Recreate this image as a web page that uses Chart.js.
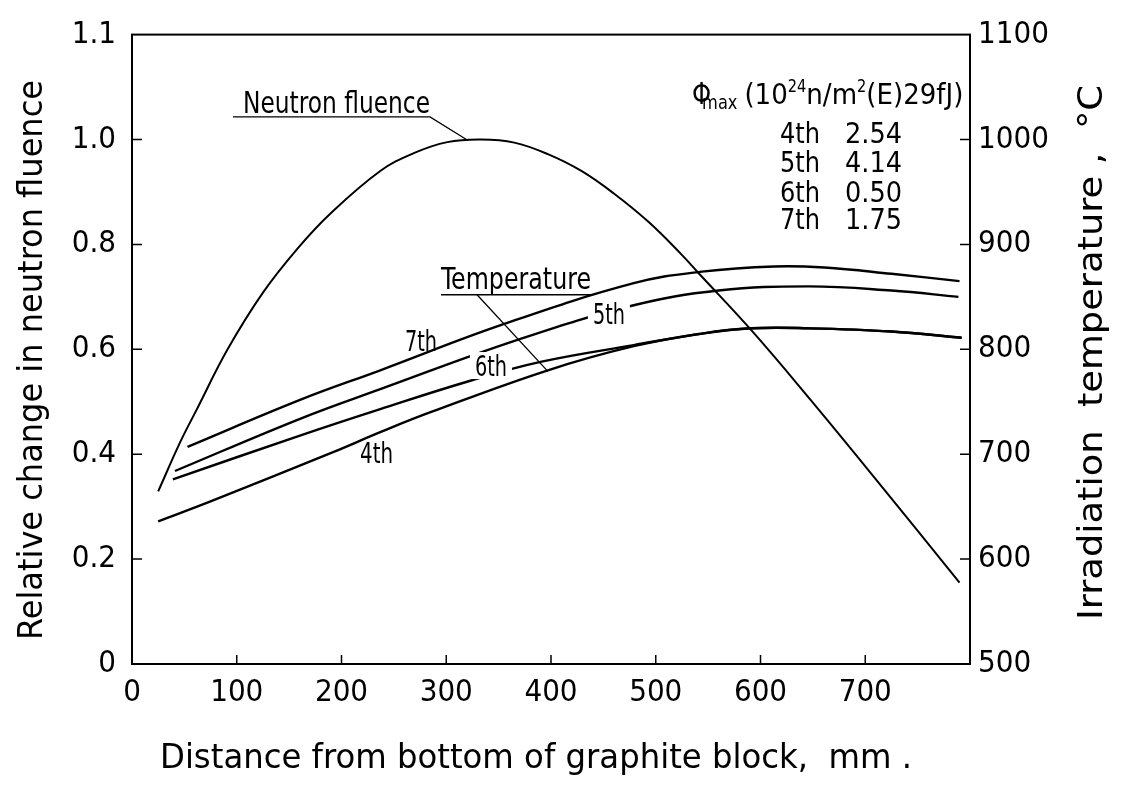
<!DOCTYPE html>
<html>
<head>
<meta charset="utf-8">
<script src="https://cdn.jsdelivr.net/npm/chart.js@4.4.1/dist/chart.umd.min.js"></script>
<style>
  html, body { margin: 0; padding: 0; background: #fff; }
  #wrap { width: 1121px; height: 792px; }
</style>
</head>
<body>
<div id="wrap"><canvas id="chart" width="1121" height="792"></canvas></div>
<script>
const FONT = "'DejaVu Sans Condensed', 'Liberation Sans', sans-serif";

// neutron fluence (relative), left axis
const fluenceDist = [25, 46, 62, 91, 125, 158, 189, 237, 269, 301, 333, 365, 397, 429, 460, 493, 524, 541, 591, 646, 709, 790];
const fluence = [0.329, 0.423, 0.486, 0.599, 0.708, 0.792, 0.858, 0.94, 0.974, 0.995, 1.0, 0.994, 0.972, 0.94, 0.897, 0.843, 0.782, 0.745, 0.637, 0.508, 0.355, 0.155];

// irradiation temperature (deg C), right axis
const dist7th = [53, 161, 237, 352, 479, 544, 613, 661, 725, 790];
const temp7th = [707, 752, 780, 823, 863, 874, 879, 878, 872, 865];
const dist5th = [41, 161, 237, 368, 479, 560, 646, 725, 789];
const temp5th = [684, 734, 762, 809, 842, 856, 860, 856, 850];
const dist6th = [39, 161, 237, 323, 390, 479, 544, 591, 646, 725, 792];
const temp6th = [676, 718, 743, 770, 788, 804, 815, 820, 820, 817, 811];
const dist4th = [25, 75, 192, 237, 285, 397, 479, 544, 591, 646, 725, 792];
const temp4th = [636, 655, 702, 721, 740, 780, 803, 815, 820, 820, 817, 811];

// max fluence table
const campaigns = ['4th', '5th', '6th', '7th'];
const phiMax = ['2.54', '4.14', '0.50', '1.75'];

// ticks
const xTickVals = [0, 100, 200, 300, 400, 500, 600, 700];
const leftTickVals = [0, 0.2, 0.4, 0.6, 0.8, 1.0, 1.2];
const leftTickLabels = ['0', '0.2', '0.4', '0.6', '0.8', '1.0', '1.1'];
const rightTickVals = [500, 600, 700, 800, 900, 1000, 1100];
const rightTickLabels = ['500', '600', '700', '800', '900', '1000', '1100'];

const pts = (xs, ys) => xs.map((d, i) => ({ x: d, y: ys[i] }));

function line(data, axis, width) {
  return {
    data: data,
    yAxisID: axis,
    borderColor: '#000',
    borderWidth: width,
    pointRadius: 0,
    fill: false,
    tension: 0.4
  };
}

// draw text squeezed/stretched to a given width
function fitText(ctx, text, x, y, width) {
  const w = ctx.measureText(text).width;
  ctx.save();
  ctx.translate(x, y);
  ctx.scale(width / w, 1);
  ctx.textAlign = 'left';
  ctx.fillText(text, 0, 0);
  ctx.restore();
}

// labels placed in data units (x: mm, y: left axis)
const notes = [
  { text: 'Neutron fluence', x: 106, y: 1.051, w: 187, size: 30 },
  { text: 'Temperature', x: 295, y: 0.715, w: 150, size: 31 },
  { text: '7th', x: 260.6, y: 0.596, w: 32, size: 29 },
  { text: '5th', x: 440, y: 0.649, w: 32, size: 29, gap: true },
  { text: '6th', x: 327.4, y: 0.549, w: 32, size: 29, gap: true },
  { text: '4th', x: 217.7, y: 0.383, w: 33, size: 29 }
];
const strokes = [
  [[96.4, 1.043], [284.5, 1.043], [320.8, 0.998]],
  [[295, 0.704], [440, 0.704]],
  [[329.4, 0.704], [397, 0.558]]
];

const frame = {
  id: 'frame',
  afterDatasetsDraw(chart) {
    const { ctx, chartArea: a, scales } = chart;
    const x = scales.x, y = scales.y, y2 = scales.y2;
    const px = d => x.getPixelForValue(d), py = v => y.getPixelForValue(v);
    ctx.save();
    ctx.strokeStyle = '#000';
    ctx.fillStyle = '#000';

    ctx.lineWidth = 2;
    ctx.strokeRect(a.left, a.top, a.right - a.left, a.bottom - a.top);

    // inward tick marks
    ctx.lineWidth = 1.5;
    ctx.beginPath();
    xTickVals.slice(1).forEach(v => {
      ctx.moveTo(px(v), a.bottom); ctx.lineTo(px(v), a.bottom - 9);
    });
    leftTickVals.slice(1, -1).forEach(v => {
      ctx.moveTo(a.left, py(v)); ctx.lineTo(a.left + 10, py(v));
    });
    rightTickVals.slice(1, -1).forEach(v => {
      const p = y2.getPixelForValue(v);
      ctx.moveTo(a.right, p); ctx.lineTo(a.right - 10, p);
    });
    ctx.stroke();

    // leaders and underlines
    ctx.lineWidth = 1.3;
    strokes.forEach(s => {
      ctx.beginPath();
      s.forEach((p, i) => i ? ctx.lineTo(px(p[0]), py(p[1])) : ctx.moveTo(px(p[0]), py(p[1])));
      ctx.stroke();
    });

    ctx.textBaseline = 'alphabetic';
    notes.forEach(n => {
      ctx.font = n.size + 'px ' + FONT;
      const lx = px(n.x), ly = py(n.y);
      if (n.gap) {
        ctx.fillStyle = '#fff';
        ctx.fillRect(lx - 5, ly - 24, n.w + 10, 27);
        ctx.fillStyle = '#000';
      }
      fitText(ctx, n.text, lx, ly, n.w);
    });

    // max fluence block
    let cx = px(534.6);
    const by = py(1.068);
    const seg = (t, size, dy, sx) => {
      ctx.font = size + 'px ' + FONT;
      const w = ctx.measureText(t).width * sx;
      fitText(ctx, t, cx, by + dy, w);
      cx += w;
    };
    seg('\u03A6', 30, 0, 0.9);
    cx -= 9;
    seg('max', 20, 5, 0.9);
    cx += 7;
    seg('(10', 29, 0, 1.0);
    seg('24', 18, -12, 0.9);
    seg('n/m', 29, 0, 1.0);
    seg('2', 18, -12, 0.9);
    seg('(E)29fJ)', 29, 0, 1.0);

    ctx.font = '29px ' + FONT;
    const rowY = [0.994, 0.938, 0.881, 0.830];
    campaigns.forEach((c, i) => {
      fitText(ctx, c, px(618.6), py(rowY[i]), 40);
      fitText(ctx, phiMax[i], px(680.7), py(rowY[i]), 57);
    });
    ctx.restore();
  },
  afterDraw(chart) {
    const ctx = chart.ctx;
    ctx.save();
    ctx.fillStyle = '#000';
    ctx.font = '34px ' + FONT;
    ctx.textBaseline = 'alphabetic';
    fitText(ctx, 'Distance from bottom of graphite block,  mm .', 160, 768, 752);

    ctx.translate(42, 640);
    ctx.rotate(-Math.PI / 2);
    fitText(ctx, 'Relative change in neutron fluence', 0, 0, 560);
    ctx.restore();

    ctx.save();
    ctx.fillStyle = '#000';
    ctx.font = '34px ' + FONT;
    ctx.translate(1102, 620);
    ctx.rotate(-Math.PI / 2);
    fitText(ctx, 'Irradiation  temperature ,  \u00B0C', 0, 0, 535);
    ctx.restore();
  }
};

const tickFont = { family: FONT, size: 31 };

new Chart(document.getElementById('chart'), {
  type: 'line',
  data: {
    datasets: [
      line(pts(fluenceDist, fluence), 'y', 2),
      line(pts(dist7th, temp7th), 'y2', 2.4),
      line(pts(dist5th, temp5th), 'y2', 2.4),
      line(pts(dist6th, temp6th), 'y2', 2.4),
      line(pts(dist4th, temp4th), 'y2', 2.4)
    ]
  },
  options: {
    responsive: false,
    animation: false,
    devicePixelRatio: 1,
    layout: { padding: { top: 28, right: 0, left: 0, bottom: 0 } },
    plugins: { legend: { display: false }, tooltip: { enabled: false } },
    scales: {
      x: {
        type: 'linear',
        min: 0,
        max: 800,
        grid: { display: false, drawTicks: false },
        border: { display: false },
        afterBuildTicks: s => { s.ticks = xTickVals.map(v => ({ value: v })); },
        afterFit: s => { s.height = 128; },
        ticks: { font: tickFont, color: '#000', padding: 10, maxRotation: 0, autoSkip: false }
      },
      y: {
        position: 'left',
        min: 0,
        max: 1.2,
        grid: { display: false, drawTicks: false },
        border: { display: false },
        afterBuildTicks: s => { s.ticks = leftTickVals.map(v => ({ value: v })); },
        afterFit: s => { s.width = 132; },
        ticks: {
          font: tickFont, color: '#000', padding: 16, autoSkip: false,
          callback: (v, i) => leftTickLabels[i]
        }
      },
      y2: {
        position: 'right',
        min: 500,
        max: 1100,
        grid: { display: false, drawTicks: false },
        border: { display: false },
        afterBuildTicks: s => { s.ticks = rightTickVals.map(v => ({ value: v })); },
        afterFit: s => { s.width = 151; },
        ticks: {
          font: tickFont, color: '#000', padding: 8, autoSkip: false,
          callback: (v, i) => rightTickLabels[i]
        }
      }
    }
  },
  plugins: [frame]
});
</script>
</body>
</html>
